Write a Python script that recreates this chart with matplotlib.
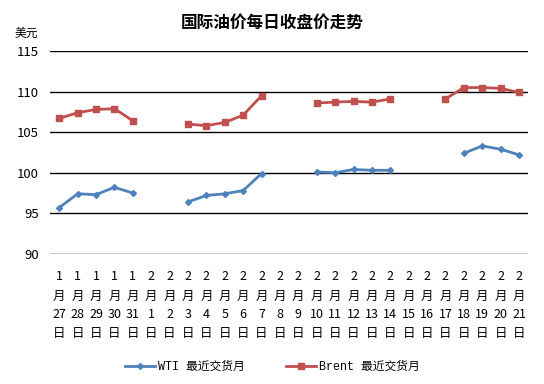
import matplotlib.pyplot as plt
import numpy as np

plt.rcParams['font.family'] = ['Noto Sans CJK SC', 'DejaVu Sans']

months = [1] * 5 + [2] * 21
days = list(range(27, 32)) + list(range(1, 22))
nan = np.nan
wti = [95.7, 97.4, 97.3, 98.2, 97.5, nan, nan,
       96.4, 97.2, 97.4, 97.8, 99.9, nan, nan,
       100.1, 100.0, 100.4, 100.3, 100.3, nan, nan, nan,
       102.4, 103.3, 102.9, 102.2]
brent = [106.7, 107.4, 107.8, 107.9, 106.4, nan, nan,
         106.0, 105.8, 106.2, 107.1, 109.5, nan, nan,
         108.6, 108.7, 108.8, 108.7, 109.1, nan, nan,
         109.1, 110.5, 110.5, 110.4, 109.9]
labels = [f"{m}\n月\n{d}\n日" for m, d in zip(months, days)]

fig = plt.figure(figsize=(5.44, 3.84), dpi=100)
ax = fig.add_axes([0.092, 0.339, 0.879, 0.528])
x = np.arange(len(labels))

ax.plot(x, wti, color='#4F81BD', marker='D', markersize=3, lw=2,
        label='WTI 最近交货月')
ax.plot(x, brent, color='#C0504D', marker='s', markersize=5, lw=2,
        label='Brent 最近交货月')

ax.set_ylim(90, 115)
ax.set_yticks(range(90, 116, 5))
ax.set_xlim(-0.5, len(labels) - 0.5)
ax.set_xticks(x)
ax.set_xticklabels(labels, fontsize=9, linespacing=1.6)
ax.tick_params(length=0, labelsize=9)
ax.tick_params(axis='x', pad=12)
ax.tick_params(axis='y', pad=8, labelsize=9.5)
for s in ax.spines.values():
    s.set_visible(False)
ax.grid(axis='y', color='black', lw=1)
ax.set_axisbelow(True)

fig.text(0.5, 0.94, '国际油价每日收盘价走势', ha='center', va='center',
         fontsize=12, fontweight='bold')
fig.text(0.048, 0.912, '美元', ha='center', va='center', fontsize=8.5)

leg = fig.legend(loc='center', bbox_to_anchor=(0.5, 0.045), ncol=2,
                 frameon=False, fontsize=8.5, columnspacing=3.5,
                 handlelength=2.6, handletextpad=0.2)
for t in leg.get_texts():
    t.set_family(['Liberation Mono', 'Noto Sans CJK SC'])

fig.savefig('out.png', dpi=100)
